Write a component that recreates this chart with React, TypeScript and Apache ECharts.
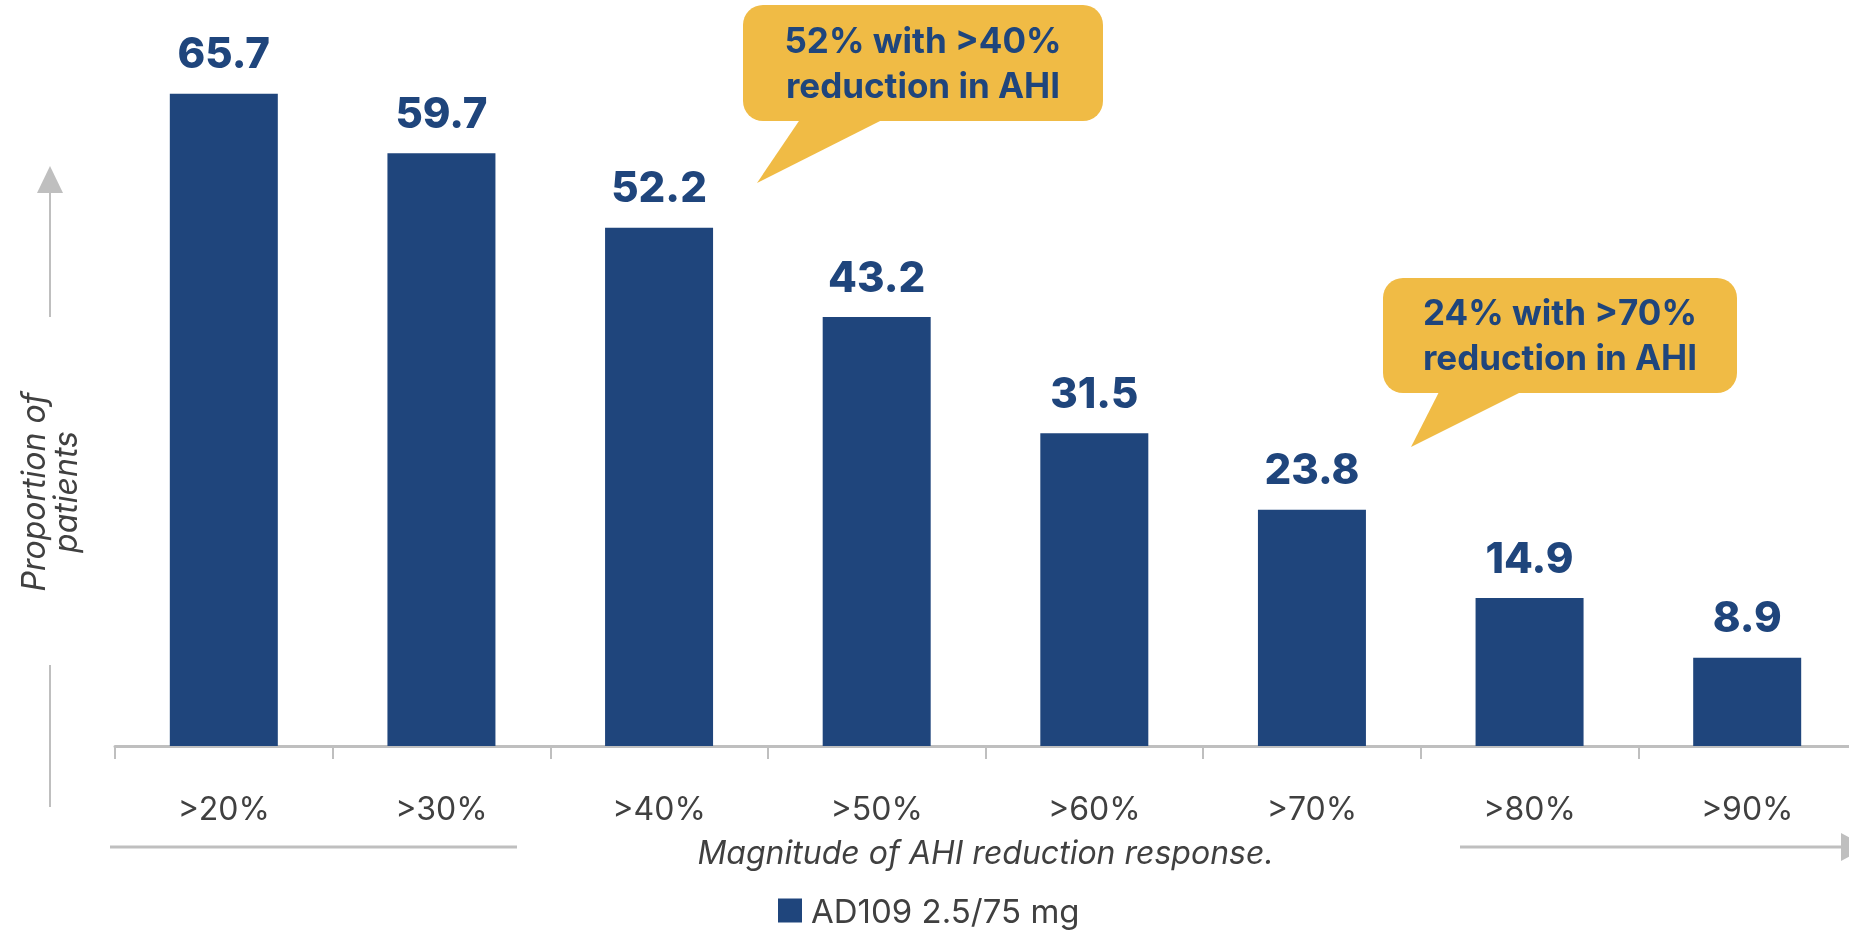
import React, { useEffect, useRef } from "react";
import * as echarts from "echarts";

const categories = [">20%", ">30%", ">40%", ">50%", ">60%", ">70%", ">80%", ">90%"];
const values = [65.7, 59.7, 52.2, 43.2, 31.5, 23.8, 14.9, 8.9];
const seriesName = "AD109 2.5/75 mg";
const xTitle = "Magnitude of AHI reduction response.";
const yTitle = "Proportion of\npatients";
const callout1 = "52% with >40%\nreduction in AHI";
const callout2 = "24% with >70%\nreduction in AHI";

const NAVY = "#1f457c";
const GOLD = "#f0bb45";
const GREY = "#bfbfbf";
const TEXT = "#404040";
const FONT = "Inter, 'Open Sans', sans-serif";

export default function App() {
  const ref = useRef<HTMLDivElement>(null);
  useEffect(() => {
    if (!ref.current) return;
    const chart = echarts.init(ref.current, undefined, { renderer: "svg" });
    const calloutGraphic = (
      rx: number, ry: number, rw: number, rh: number,
      tail: number[][], text: string
    ) => ({
      type: "group",
      children: [
        { type: "polygon", shape: { points: tail }, style: { fill: GOLD } },
        { type: "rect", shape: { x: rx, y: ry, width: rw, height: rh, r: 20 }, style: { fill: GOLD } },
        {
          type: "text",
          x: rx + rw / 2,
          y: ry + rh / 2 - 1,
          style: {
            text,
            fill: NAVY,
            fontSize: 35,
            fontWeight: 700,
            fontFamily: FONT,
            lineHeight: 45,
            align: "center",
            verticalAlign: "middle",
          },
        },
      ],
    });
    chart.setOption({
      animation: false,
      grid: { left: 115, width: 1741, top: 51, height: 695, containLabel: false, outerBoundsMode: "none" },
      legend: {
        data: [seriesName],
        left: 773,
        top: 889,
        icon: "rect",
        itemWidth: 24,
        itemHeight: 24,
        textStyle: { fontSize: 33, color: TEXT, fontFamily: FONT, padding: [0, 0, 0, 4] },
      },
      xAxis: {
        type: "category",
        data: categories,
        axisLine: { show: true, lineStyle: { color: GREY, width: 3 } },
        axisTick: { show: true, length: 13, lineStyle: { color: GREY, width: 2 } },
        axisLabel: { fontSize: 32, color: TEXT, fontFamily: FONT, margin: 46 },
        name: xTitle,
        nameLocation: "middle",
        nameGap: 90,
        nameTextStyle: { fontSize: 32, fontStyle: "italic", color: TEXT, fontFamily: FONT },
      },
      yAxis: { type: "value", min: 0, max: 70, show: false },
      series: [
        {
          name: seriesName,
          type: "bar",
          data: values,
          barWidth: 108,
          itemStyle: { color: NAVY },
          label: {
            show: true,
            position: "top",
            distance: 20,
            fontSize: 42,
            fontWeight: 800,
            color: NAVY,
            fontFamily: FONT,
          },
        },
      ],
      graphic: [
        // vertical axis arrow
        { type: "line", shape: { x1: 50, y1: 190, x2: 50, y2: 317 }, style: { stroke: GREY, lineWidth: 2 } },
        { type: "polygon", shape: { points: [[50, 166], [37, 193], [63, 193]] }, style: { fill: GREY } },
        { type: "line", shape: { x1: 50, y1: 665, x2: 50, y2: 807 }, style: { stroke: GREY, lineWidth: 2 } },
        {
          type: "text",
          x: 49,
          y: 492,
          rotation: Math.PI / 2,
          style: {
            text: yTitle,
            fill: TEXT,
            fontSize: 32,
            fontStyle: "italic",
            fontFamily: FONT,
            lineHeight: 32,
            align: "center",
            verticalAlign: "middle",
          },
        },
        // horizontal axis arrow
        { type: "line", shape: { x1: 110, y1: 847, x2: 517, y2: 847 }, style: { stroke: GREY, lineWidth: 3 } },
        { type: "line", shape: { x1: 1460, y1: 847, x2: 1845, y2: 847 }, style: { stroke: GREY, lineWidth: 3 } },
        { type: "polygon", shape: { points: [[1841, 833], [1868, 847], [1841, 861]] }, style: { fill: GREY } },
        // callouts
        calloutGraphic(743, 5, 360, 116, [[803, 115], [892, 115], [757, 183]], callout1),
        calloutGraphic(1383, 278, 354, 115, [[1441, 388], [1529, 388], [1411, 447]], callout2),
      ],
    });
    return () => chart.dispose();
  }, []);
  return (
    <div
      ref={ref}
      style={{ position: "fixed", left: 0, top: 0, width: 1849, height: 931 }}
    />
  );
}
